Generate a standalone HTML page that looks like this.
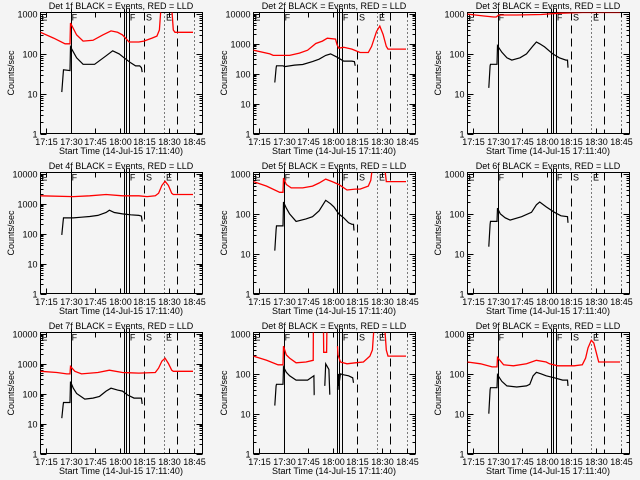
<!DOCTYPE html>
<html><head><meta charset="utf-8"><style>
html,body{margin:0;padding:0;background:#f4f4f4}
svg{display:block}
text{font-family:"Liberation Sans",sans-serif;font-size:9px;fill:#000}
</style></head><body>
<svg id="chart" width="640" height="480" viewBox="0 0 640 480" xmlns="http://www.w3.org/2000/svg"></svg>
<script>
// time in minutes since 17:11:40
const xTickLabels = ["17:15","17:30","17:45","18:00","18:15","18:30","18:45"];
const xTickMinutes = [3.33,18.33,33.33,48.33,63.33,78.33,93.33];
const eventMinutes = [18.3,51.2,52.4,53.7];
const dashedMinutes = [63.4,83];
const dottedMinutes = [75.6,93.3];
const eventLetters = ["E","F","F","S","E"];
const letterMinutes = [0.5,19,54.5,64.3,76.5];
const detNames = ["1f","2f","3f","4f","5f","6f","7f","8f","9f"];
const detMaxDecade = [3,4,3,4,3,3,4,3,3];

const black1T=[13,13.8,14,18,18.3,22,26,33,40,44,48,51,55,58,60.5,61.5,62];
const black1V=[11,30,40,38,150,80,55,55,90,120,100,80,60,50,50,45,35];
const red1T=[0,8,15,18,18.3,22,26,32,38,43,47,50,54,60,63,68,71,72.5,73.5,80,81,82,93];
const red1V=[350,250,180,180,600,300,210,220,300,380,350,300,200,200,210,250,280,400,1500,1500,400,350,350];

const black2T=[13,13.8,14,18,19,25,30,36,40,44,47,51,55,60,61.5,62];
const black2V=[50,150,180,180,170,190,200,250,300,400,450,350,260,260,250,180];
const red2T=[0,10,12,22,28,33,38,42,45,50,51,52,55,60,65,70,72,75,77,79,81,82,93];
const red2V=[600,450,400,400,480,600,1000,1200,1500,1400,900,700,750,650,500,500,800,2500,3800,2000,800,650,650];

const black3T=[13,13.8,14,18,18.3,21,24,27,32,36,40,42,44,47,52,56,60,61,61.3];
const black3V=[14,50,55,55,160,110,80,70,80,100,160,200,180,150,100,80,70,70,45];
const red3T=[0,10,16,17.5,19,30,45,55,70,93];
const red3V=[1000,900,850,850,950,950,980,1050,1100,1100];

const black4T=[13,13.8,14,20,25,30,35,40,42,45,50,55,60,61.5,62];
const black4V=[90,250,330,330,350,370,400,500,600,500,450,420,400,380,250];
const red4T=[0,20,30,40,50,60,65,70,72,74,76,78,80,81,93];
const red4V=[1800,1700,1800,2000,1800,1800,1700,1800,2200,4000,5500,4000,2200,2000,2000];

const black5T=[13,13.8,14,18,18.3,20,22,26,32,36,40,44,47,49,52,55,58,60,61,61.3];
const black5V=[12,40,50,50,200,140,100,65,75,85,120,220,180,150,100,80,60,55,55,38];
const red5T=[0,8,16,18,18.3,20,23,30,36,40,44,48,52,57,62,65,70,71.5,72.5,80,81,93];
const red5V=[650,500,350,350,800,550,450,450,500,600,750,650,550,400,420,420,500,700,1500,1500,650,650];

const black6T=[13,13.8,14,18,18.3,20,23,26,33,39,42,44,48,53,57,61,61.3];
const black6V=[15,55,65,65,140,100,80,70,85,110,170,200,150,110,90,85,60];
const red6T=[];
const red6V=[];

const black7T=[13,13.8,14,18,18.3,20,22,27,32,36,40,43,47,50,53,57,60,61.5,62];
const black7V=[15,40,50,50,250,150,100,65,70,80,120,150,130,120,90,70,70,70,45];
const red7T=[0,10,16,18,18.3,21,25,35,42,50,60,70,72,74,76,78,80,81,93];
const red7V=[550,500,450,450,800,550,450,500,600,500,480,500,700,1200,1500,1000,600,550,550];

const black8T=[13,13.8,14,18,18.3,20,22,26,33,36.8,37,37.2,null,43.5,44,46,46.5,null,51.2,51.4,51.6,51.8,52,53,55,58,60.5,61];
const black8V=[16,50,55,55,150,110,90,70,70,90,30,30,null,50,180,130,30,null,40,100,40,100,50,100,95,90,80,60];
const red8T=[0,8,15,18,18.3,20,22,26,32,36.4,36.5,null,42.6,42.8,44.6,44.8,null,51.2,51.5,53,57,62,67,71,72.5,73.5,80,81,82,93];
const red8V=[280,220,170,170,500,300,250,190,200,220,2000,null,2000,350,350,2000,null,500,300,200,180,190,200,280,400,1500,1500,400,280,280];

const black9T=[13,13.8,14,18,18.3,21,24,30,36,38,40,42,45,48,53,58,61,61.3];
const black9V=[10,40,45,45,95,65,50,47,50,55,90,110,100,90,80,70,70,50];
const red9T=[0,8,15,18,18.3,22,28,36,42,48,50,55,65,70,72,73.5,75.5,77,78.5,80,93];
const red9V=[200,180,150,150,260,170,160,180,220,200,180,160,160,170,250,450,700,600,350,200,200];

const blackSeries=[[black1T,black1V],[black2T,black2V],[black3T,black3V],[black4T,black4V],[black5T,black5V],[black6T,black6V],[black7T,black7V],[black8T,black8V],[black9T,black9V]];
const redSeries=[[red1T,red1V],[red2T,red2V],[red3T,red3V],[red4T,red4V],[red5T,red5V],[red6T,red6V],[red7T,red7V],[red8T,red8V],[red9T,red9V]];

const NS="http://www.w3.org/2000/svg";
const svg=document.getElementById('chart');
function mk(tag,attrs,parent){const e=document.createElementNS(NS,tag);for(const k in attrs)e.setAttribute(k,attrs[k]);parent.appendChild(e);return e;}

const BL=40.5,BR=202.5,BT=12.5,BB=133.5,PXMIN=1.64;
const snap=x=>Math.round(x)+0.5;
for(let p=0;p<9;p++){
  const ox=[0,213,427][p%3], oy=[0,160,320][Math.floor(p/3)];
  const g=mk('g',{transform:`translate(${ox},${oy})`},svg);
  
  
  const maxD=detMaxDecade[p];
  const top=maxD===3?Math.log10(1100):Math.log10(10800);
  const xs=t=>BL+t*PXMIN;
  const ys=v=>BB-(Math.log10(v))/top*(BB-BT);
  const cid='clip'+p;
  const cp=mk('clipPath',{id:cid},g);mk('rect',{x:BL,y:BT,width:BR-BL,height:BB-BT},cp);
  const ti=mk('text',{x:121,y:9,'text-anchor':'middle','font-size':'8.5'},g);ti.textContent=`Det ${detNames[p]} BLACK = Events, RED = LLD`;
  
  
  const bx=mk('rect',{x:BL,y:BT,width:BR-BL,height:BB-BT,fill:'none',stroke:'#000','stroke-width':1,'shape-rendering':'crispEdges'},g);
  
  
  for(let d=0;d<=maxD;d++){
    const y=snap(ys(Math.pow(10,d)));
    mk('line',{x1:BL,x2:BL+6,y1:y,y2:y,stroke:'#000','shape-rendering':'crispEdges'},g);
    mk('line',{x1:BR,x2:BR-6,y1:y,y2:y,stroke:'#000','shape-rendering':'crispEdges'},g);
    const lb=mk('text',{x:BL-3,y:y+3,'text-anchor':'end','font-size':'8'},g);lb.textContent=String(Math.pow(10,d));
    
    
    if(d<maxD){for(let m=2;m<10;m++){const yy=snap(ys(m*Math.pow(10,d)));
      mk('line',{x1:BL,x2:BL+3,y1:yy,y2:yy,stroke:'#000','shape-rendering':'crispEdges'},g);mk('line',{x1:BR,x2:BR-3,y1:yy,y2:yy,stroke:'#000','shape-rendering':'crispEdges'},g);}}
  }
  const yl=mk('text',{x:0,y:0,transform:`translate(14,73) rotate(-90)`,'text-anchor':'middle','font-size':'7.5'},g);yl.textContent='Counts/sec';
  
  
  for(let i=0;i<xTickMinutes.length;i++){
    const x=snap(xs(xTickMinutes[i]));
    mk('line',{x1:x,x2:x,y1:BB,y2:BB-5,stroke:'#000','shape-rendering':'crispEdges'},g);mk('line',{x1:x,x2:x,y1:BT,y2:BT+5,stroke:'#000','shape-rendering':'crispEdges'},g);
    const lb=mk('text',{x:x,y:145,'text-anchor':'middle','font-size':'7.5'},g);lb.textContent=xTickLabels[i];
    
    
  }
  const xl=mk('text',{x:121,y:154,'text-anchor':'middle','font-size':'8.5'},g);xl.textContent='Start Time (14-Jul-15 17:11:40)';
  
  
  eventMinutes.forEach(t=>{const x=snap(xs(t));mk('line',{x1:x,x2:x,y1:BT-4,y2:BB,stroke:'#000','stroke-width':1,'shape-rendering':'crispEdges'},g);});
  dashedMinutes.forEach(t=>{const x=snap(xs(t));mk('line',{x1:x,x2:x,y1:BT,y2:BB,stroke:'#000','stroke-width':1,'stroke-dasharray':'8,5','shape-rendering':'crispEdges'},g);});
  dottedMinutes.forEach(t=>{const x=snap(xs(t));mk('line',{x1:x,x2:x,y1:BT,y2:BB,stroke:'#000','stroke-width':1,'stroke-dasharray':'1,3','shape-rendering':'crispEdges'},g);});
  eventLetters.forEach((L,i)=>{const t=mk('text',{x:xs(letterMinutes[i]),y:BT+8,'font-size':'10'},g);t.textContent=L;
    
    });
  function path(T,V){let d='',pen=false;for(let i=0;i<T.length;i++){if(T[i]===null){pen=false;continue;}
    d+=(pen?'L':'M')+xs(T[i]).toFixed(1)+','+ys(V[i]).toFixed(1);pen=true;}return d;}
  const [rt,rv]=redSeries[p];
  if(rt.length){const r=mk('path',{d:path(rt,rv),fill:'none',stroke:'#ff0000','stroke-width':1.3,'clip-path':`url(#${cid})`},g);
    
    }
  const [bt,bv]=blackSeries[p];
  const b=mk('path',{d:path(bt,bv),fill:'none',stroke:'#000','stroke-width':1.2,'clip-path':`url(#${cid})`},g);
  
  
}
</script>
</body></html>
